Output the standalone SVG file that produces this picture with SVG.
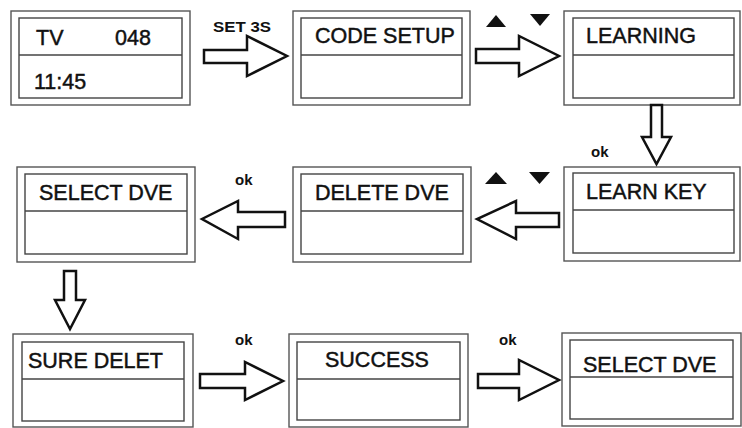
<svg xmlns="http://www.w3.org/2000/svg" width="742" height="428" viewBox="0 0 742 428">
<style>
.outer{fill:#fff;stroke:#555;stroke-width:1.4}
.inner{fill:none;stroke:#444;stroke-width:1.4}
.div{stroke:#444;stroke-width:1.4}
.lbl{font-family:"Liberation Sans",Arial,sans-serif;font-size:21.5px;fill:#111;stroke:#111;stroke-width:0.45}
.small{font-family:"Liberation Sans",Arial,sans-serif;font-size:15px;font-weight:bold;fill:#111}
.arr{fill:#fff;stroke:#111;stroke-width:2.5;stroke-linejoin:miter}
.tri{fill:#111}
</style>
<rect width="742" height="428" fill="#fff"/>
<g id="node-tv">
<rect class="outer" x="11" y="11" width="179" height="94"/>
<rect class="inner" x="19" y="18" width="163" height="80"/>
<line class="div" x1="19" y1="55" x2="182" y2="55"/>
<text class="lbl" x="36" y="45">TV</text>
<text class="lbl" x="115" y="45">048</text>
<text class="lbl" x="34" y="89">11:45</text>
</g>
<g id="node-code-setup">
<rect class="outer" x="293" y="11" width="177" height="94"/>
<rect class="inner" x="301" y="18" width="161" height="80"/>
<line class="div" x1="301" y1="55" x2="462" y2="55"/>
<text class="lbl" x="315" y="43">CODE SETUP</text>
</g>
<g id="node-learning">
<rect class="outer" x="564" y="11" width="176" height="94"/>
<rect class="inner" x="573" y="18" width="161" height="80"/>
<line class="div" x1="573" y1="55" x2="734" y2="55"/>
<text class="lbl" x="586" y="43">LEARNING</text>
</g>
<g id="node-learn-key">
<rect class="outer" x="564" y="167" width="176" height="94"/>
<rect class="inner" x="573" y="173" width="161" height="80"/>
<line class="div" x1="573" y1="210" x2="734" y2="210"/>
<text class="lbl" x="586" y="199">LEARN KEY</text>
</g>
<g id="node-delete-dve">
<rect class="outer" x="293" y="167" width="178" height="95"/>
<rect class="inner" x="301" y="174" width="162" height="80"/>
<line class="div" x1="301" y1="211" x2="463" y2="211"/>
<text class="lbl" x="315" y="200">DELETE DVE</text>
</g>
<g id="node-select-dve-1">
<rect class="outer" x="17" y="167" width="178" height="95"/>
<rect class="inner" x="25" y="174" width="162" height="80"/>
<line class="div" x1="25" y1="211" x2="187" y2="211"/>
<text class="lbl" x="39" y="200">SELECT DVE</text>
</g>
<g id="node-sure-delet">
<rect class="outer" x="13" y="334" width="180" height="93"/>
<rect class="inner" x="22" y="342" width="162" height="79"/>
<line class="div" x1="22" y1="379" x2="184" y2="379"/>
<text class="lbl" x="28" y="368">SURE DELET</text>
</g>
<g id="node-success">
<rect class="outer" x="289" y="334" width="179" height="93"/>
<rect class="inner" x="297" y="342" width="163" height="78"/>
<line class="div" x1="297" y1="379" x2="460" y2="379"/>
<text class="lbl" x="325" y="367">SUCCESS</text>
</g>
<g id="node-select-dve-2">
<rect class="outer" x="562" y="333" width="179" height="93"/>
<rect class="inner" x="570" y="340" width="163" height="79"/>
<line class="div" x1="570" y1="377" x2="733" y2="377"/>
<text class="lbl" x="583" y="372">SELECT DVE</text>
</g>
<g id="connectors">
<polygon class="arr" points="204,50 247,50 247,36 287,56 247,76 247,63 204,63"/>
<text class="small" x="213" y="32" font-size="16" textLength="58" lengthAdjust="spacingAndGlyphs">SET 3S</text>
<polygon class="arr" points="476,49 519,49 519,36 559,56 519,76 519,63 476,63"/>
<polygon class="tri" points="486,27 496,15 506,27"/>
<polygon class="tri" points="530,14 550,14 540,26"/>
<polygon class="arr" points="651,105 662,105 662,137 671,137 656.5,164 642,137 651,137"/>
<text class="small" x="591" y="157">ok</text>
<polygon class="arr" points="559,213 516,213 516,201 477,219 516,239 516,227 559,227"/>
<polygon class="tri" points="485,184 496,172 507,184"/>
<polygon class="tri" points="529,172 550,172 539.5,184"/>
<polygon class="arr" points="285,212 238,212 238,201 202,219 238,239 238,227 285,227"/>
<text class="small" x="235" y="185">ok</text>
<polygon class="arr" points="64,271 76,271 76,300 85,300 70,329 55,300 64,300"/>
<polygon class="arr" points="200,374 245,374 245,362 283,381 245,400 245,388 200,388"/>
<text class="small" x="235" y="345">ok</text>
<polygon class="arr" points="478,374 519,374 519,360 559,380 519,400 519,388 478,388"/>
<text class="small" x="499" y="345">ok</text>
</g>
</svg>
